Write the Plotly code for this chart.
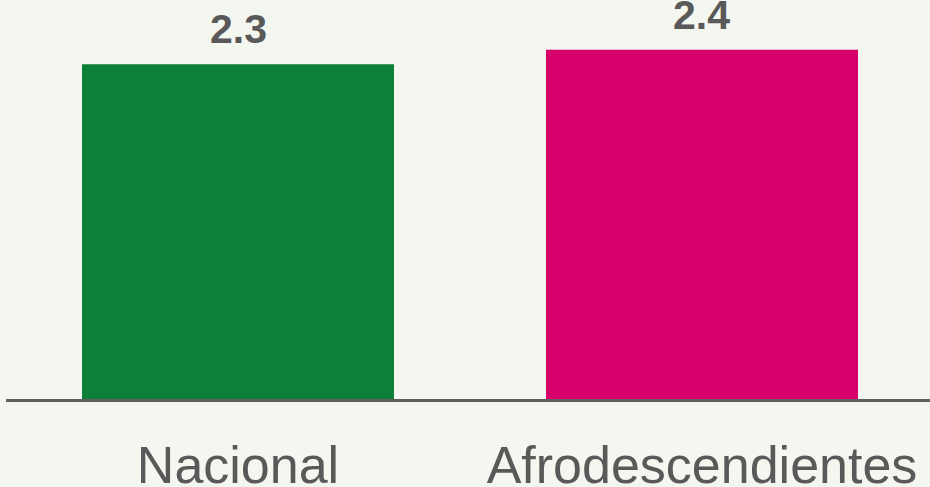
import plotly.graph_objects as go

categories = ["Nacional", "Afrodescendientes"]
values = [2.3, 2.4]
bar_colors = ["#0c8038", "#d7006b"]
value_labels = ["2.3", "2.4"]

fig = go.Figure()
fig.add_trace(go.Bar(
    x=categories,
    y=values,
    marker=dict(color=bar_colors, line=dict(width=0)),
    width=0.6724,
    hoverinfo="skip",
))

for c, v, t in zip(categories, values, value_labels):
    fig.add_annotation(
        x=c, y=v, text=f"<b>{t}</b>", showarrow=False,
        yanchor="bottom", xanchor="center", yshift=10,
        font=dict(family="Arial, Liberation Sans, sans-serif", size=41, color="#595959"),
    )

fig.update_layout(
    width=930, height=487,
    margin=dict(l=6, r=0, t=0, b=88, autoexpand=False),
    paper_bgcolor="#f4f6f0",
    plot_bgcolor="#f4f6f0",
    showlegend=False,
    xaxis=dict(
        range=[-0.5, 1.4914],
        automargin=False,
        showline=True, linecolor="#5f5f5f", linewidth=3,
        showgrid=False, zeroline=False, ticks="",
        tickfont=dict(family="Arial, Liberation Sans, sans-serif", size=52, color="#595959"),
        ticklabelstandoff=19,
    ),
    yaxis=dict(
        range=[0, 399 / 145.5],
        automargin=False,
        visible=False, showgrid=False, zeroline=False,
    ),
)

fig.write_html(
    "out.html",
    config={"displayModeBar": False},
    post_script="document.body.style.margin='0';document.body.style.overflow='hidden';document.body.style.background='#f4f6f0';",
)
